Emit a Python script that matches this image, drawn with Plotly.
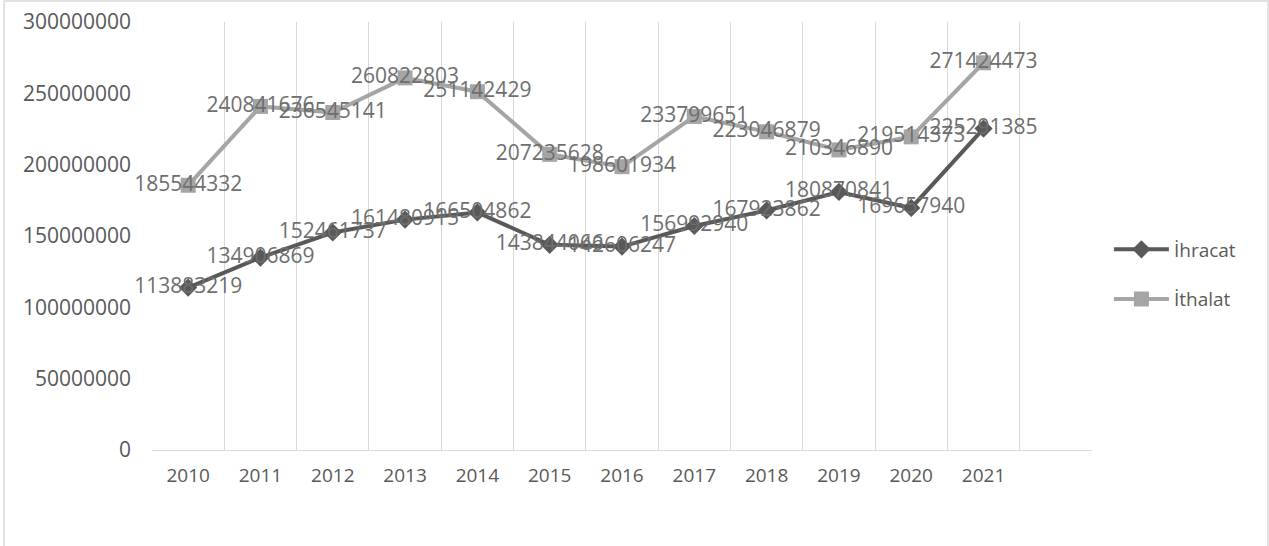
import plotly.graph_objects as go

years = ["2010", "2011", "2012", "2013", "2014", "2015", "2016", "2017", "2018", "2019", "2020", "2021"]
ihracat = [113883219, 134906869, 152461737, 161480915, 166504862, 143844066,
           142606247, 156992940, 167923862, 180870841, 169657940, 225291385]
ithalat = [185544332, 240841676, 236545141, 260822803, 251142429, 207235628,
           198601934, 233799651, 223046879, 210346890, 219514373, 271424473]
y_ticks = [0, 50000000, 100000000, 150000000, 200000000, 250000000, 300000000]

xpos = list(range(len(years)))
FONT = "Open Sans"

fig = go.Figure()
fig.add_trace(go.Scatter(
    x=xpos, y=ihracat, name="İhracat", mode="lines+markers+text",
    legendgroup="a", cliponaxis=False,
    line=dict(color="#595959", width=4),
    marker=dict(symbol="diamond", size=14, color="#595959"),
    text=[str(v) for v in ihracat], textposition="middle center",
    textfont=dict(family=FONT, size=21, color="#6E6E6E"),
))
fig.add_trace(go.Scatter(
    x=xpos, y=ithalat, name="İthalat", mode="lines+markers+text",
    legendgroup="b", cliponaxis=False,
    line=dict(color="#A5A5A5", width=4),
    marker=dict(symbol="square", size=15, color="#A5A5A5"),
    text=[str(v) for v in ithalat], textposition="middle center",
    textfont=dict(family=FONT, size=21, color="#6E6E6E"),
))

fig.update_layout(
    width=1269, height=546,
    paper_bgcolor="white", plot_bgcolor="white",
    margin=dict(l=152, r=177, t=22, b=96, autoexpand=False),
    font=dict(family=FONT, color="#595959"),
    showlegend=True,
    legend=dict(x=1.018, y=0.41, xanchor="left", yanchor="middle",
                font=dict(family=FONT, size=19, color="#595959"),
                bgcolor="rgba(0,0,0,0)", tracegroupgap=22, itemwidth=55),
    xaxis=dict(
        range=[-0.5, 12.5], tickmode="array", tickvals=xpos, ticktext=years,
        showgrid=False, zeroline=False, ticks="", automargin=False,
        showline=True, linecolor="#D9D9D9", linewidth=1,
        tickfont=dict(family=FONT, size=19, color="#595959"),
        ticklabelstandoff=8,
        minor=dict(tickmode="linear", tick0=-0.5, dtick=1, showgrid=True,
                   gridcolor="#D9D9D9", gridwidth=1, ticks=""),
    ),
    yaxis=dict(
        range=[0, 300000000], tickmode="array", tickvals=y_ticks,
        ticktext=[str(v) for v in y_ticks], automargin=False,
        showgrid=False, zeroline=False, showline=False, ticks="",
        tickfont=dict(family=FONT, size=21, color="#595959"),
        ticklabelstandoff=20,
    ),
    shapes=[dict(type="rect", xref="paper", yref="paper",
                 x0=-0.1574, y0=-0.25, x1=1.1872, y1=1.049,
                 line=dict(color="#D9D9D9", width=1.5), fillcolor="rgba(0,0,0,0)",
                 layer="below")],
)

fig.write_html("out.html", config={"displayModeBar": False},
               post_script="document.body.style.margin='0';")
